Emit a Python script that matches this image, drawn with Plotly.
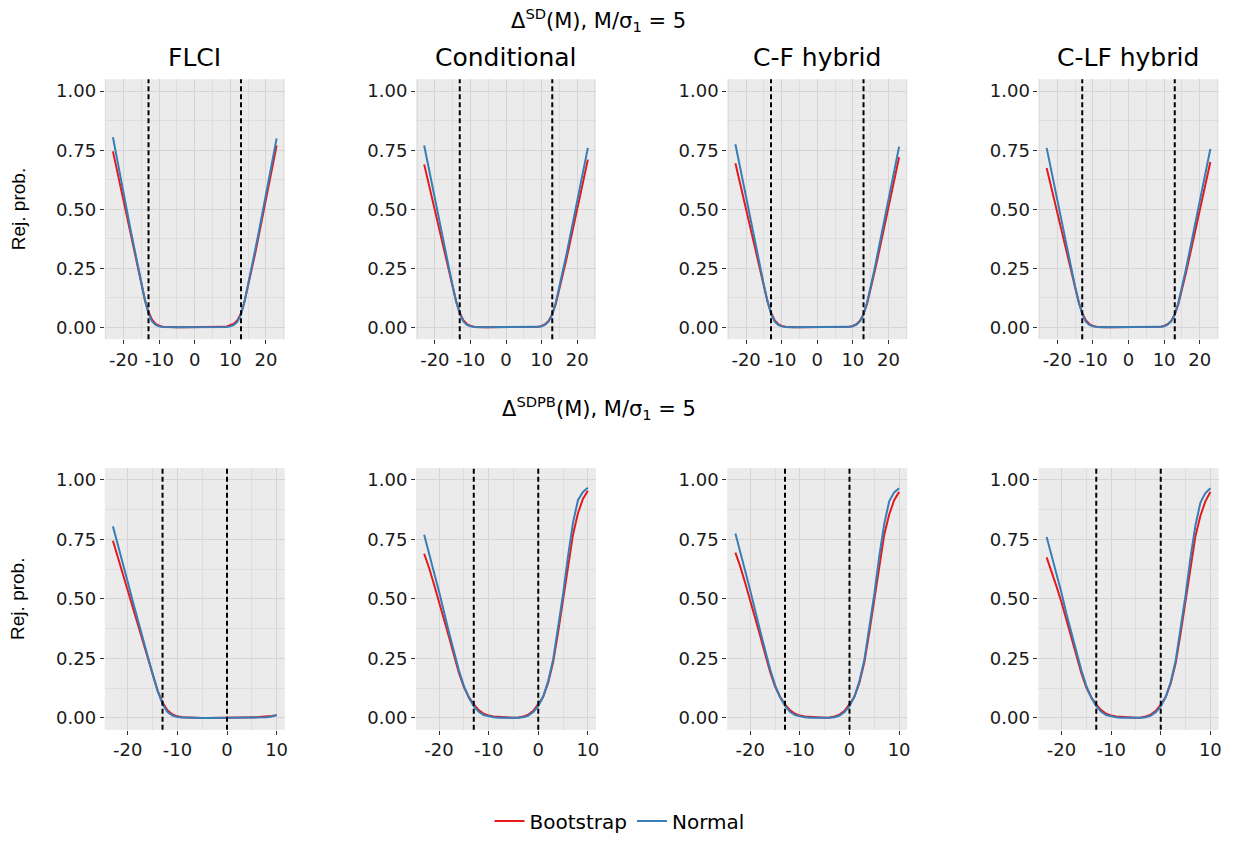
import plotly.graph_objects as go
from plotly.subplots import make_subplots

# ---------------- data ----------------
methods = ["FLCI", "Conditional", "C-F hybrid", "C-LF hybrid"]
row_titles = ["Δ<sup>SD</sup>(M), M/σ<sub>1</sub> = 5", "Δ<sup>SDPB</sup>(M), M/σ<sub>1</sub> = 5"]
series_names = ["Bootstrap", "Normal"]

x_top = list(range(-23, 24))
x_bot = list(range(-23, 11))

# top row (Delta^SD)
top_flci_boot = [0.745, 0.675, 0.60, 0.53, 0.46, 0.39, 0.32, 0.25, 0.18, 0.115, 0.065, 0.032, 0.015, 0.007, 0.003, 0.0015,
                 0.0005, 0, 0, 0, 0, 0, 0, 0, 0, 0, 0, 0, 0, 0.0005, 0.001,
                 0.002, 0.004, 0.008, 0.015, 0.03, 0.06, 0.11, 0.175, 0.245, 0.315, 0.39, 0.465, 0.545, 0.625, 0.70, 0.77]
top_flci_norm = [0.805, 0.73, 0.645, 0.57, 0.49, 0.41, 0.335, 0.26, 0.185, 0.115, 0.058, 0.025, 0.01, 0.004, 0.0015, 0.0005,
                 0, 0, 0, 0, 0, 0, 0, 0, 0, 0, 0, 0, 0, 0, 0,
                 0.0005, 0.0015, 0.004, 0.01, 0.024, 0.055, 0.11, 0.18, 0.255, 0.33, 0.405, 0.485, 0.565, 0.645, 0.725, 0.80]
top_cond_boot = [0.69, 0.625, 0.56, 0.495, 0.43, 0.365, 0.295, 0.23, 0.165, 0.108, 0.062, 0.03, 0.014, 0.006, 0.0025, 0.001,
                 0.0005, 0, 0, 0, 0, 0, 0, 0, 0, 0, 0, 0, 0, 0, 0.0005,
                 0.0012, 0.003, 0.006, 0.013, 0.028, 0.056, 0.10, 0.16, 0.225, 0.29, 0.36, 0.43, 0.50, 0.57, 0.64, 0.71]
top_cond_norm = [0.77, 0.695, 0.615, 0.54, 0.465, 0.39, 0.315, 0.245, 0.175, 0.11, 0.058, 0.025, 0.01, 0.004, 0.0015, 0.0005,
                 0, 0, 0, 0, 0, 0, 0, 0, 0, 0, 0, 0, 0, 0, 0,
                 0.0007, 0.002, 0.005, 0.011, 0.025, 0.055, 0.105, 0.17, 0.24, 0.31, 0.385, 0.46, 0.535, 0.61, 0.685, 0.76]
top_cf_boot = [0.695, 0.63, 0.565, 0.50, 0.435, 0.37, 0.30, 0.235, 0.17, 0.11, 0.063, 0.03, 0.014, 0.006, 0.0025, 0.001,
               0.0005, 0, 0, 0, 0, 0, 0, 0, 0, 0, 0, 0, 0, 0, 0.0005,
               0.0012, 0.003, 0.006, 0.013, 0.028, 0.056, 0.10, 0.16, 0.228, 0.295, 0.365, 0.435, 0.505, 0.575, 0.65, 0.72]
top_cf_norm = [0.775, 0.70, 0.62, 0.545, 0.47, 0.395, 0.32, 0.25, 0.18, 0.112, 0.058, 0.025, 0.01, 0.004, 0.0015, 0.0005,
               0, 0, 0, 0, 0, 0, 0, 0, 0, 0, 0, 0, 0, 0, 0,
               0.0007, 0.002, 0.005, 0.011, 0.025, 0.055, 0.105, 0.17, 0.24, 0.315, 0.39, 0.465, 0.54, 0.615, 0.69, 0.765]
top_clf_boot = [0.675, 0.612, 0.55, 0.487, 0.424, 0.36, 0.292, 0.228, 0.163, 0.106, 0.061, 0.03, 0.014, 0.006, 0.0025, 0.001,
                0.0005, 0, 0, 0, 0, 0, 0, 0, 0, 0, 0, 0, 0, 0, 0.0005,
                0.0012, 0.003, 0.006, 0.013, 0.027, 0.055, 0.098, 0.157, 0.222, 0.288, 0.355, 0.424, 0.492, 0.56, 0.63, 0.70]
top_clf_norm = [0.76, 0.685, 0.61, 0.535, 0.46, 0.385, 0.31, 0.24, 0.172, 0.108, 0.056, 0.024, 0.01, 0.004, 0.0015, 0.0005,
                0, 0, 0, 0, 0, 0, 0, 0, 0, 0, 0, 0, 0, 0, 0,
                0.0007, 0.002, 0.005, 0.011, 0.025, 0.054, 0.103, 0.167, 0.237, 0.31, 0.383, 0.456, 0.53, 0.605, 0.68, 0.755]

# bottom row (Delta^SDPB)
bot_flci_boot = [0.745, 0.675, 0.60, 0.53, 0.46, 0.39, 0.32, 0.25, 0.18, 0.115, 0.065, 0.032, 0.015, 0.007, 0.003, 0.0015,
                 0.0005, 0, 0, 0, 0, 0, 0, 0, 0, 0, 0, 0,
                 0.001, 0.003, 0.005, 0.006, 0.008, 0.012]
bot_flci_norm = [0.805, 0.73, 0.645, 0.57, 0.49, 0.41, 0.335, 0.26, 0.185, 0.115, 0.058, 0.025, 0.01, 0.004, 0.0015, 0.0005,
                 0, 0, 0, 0, 0, 0, 0, 0, 0, 0, 0, 0, 0,
                 0.0005, 0.001, 0.003, 0.006, 0.012]
bot_cond_boot = [0.69, 0.63, 0.56, 0.49, 0.415, 0.34, 0.265, 0.19, 0.13, 0.088, 0.057, 0.033, 0.018, 0.01, 0.006, 0.004, 0.002, 0.001, 0.0005,
                 0.002, 0.006, 0.014, 0.03, 0.058, 0.09, 0.148, 0.235, 0.36, 0.50, 0.64, 0.77, 0.86, 0.92, 0.955]
bot_cond_norm = [0.77, 0.695, 0.61, 0.53, 0.44, 0.36, 0.28, 0.20, 0.135, 0.085, 0.05, 0.026, 0.012, 0.006, 0.003, 0.0012, 0.0005, 0.0002, 0,
                 0.001, 0.003, 0.01, 0.025, 0.05, 0.09, 0.155, 0.245, 0.375, 0.52, 0.68, 0.82, 0.915, 0.95, 0.967]
bot_cf_boot = [0.695, 0.635, 0.565, 0.495, 0.42, 0.345, 0.268, 0.193, 0.132, 0.089, 0.057, 0.033, 0.018, 0.01, 0.006, 0.004, 0.002, 0.001, 0.0005,
               0.002, 0.006, 0.014, 0.03, 0.058, 0.09, 0.148, 0.235, 0.36, 0.50, 0.64, 0.77, 0.855, 0.915, 0.95]
bot_cf_norm = [0.775, 0.70, 0.615, 0.535, 0.445, 0.365, 0.285, 0.205, 0.138, 0.087, 0.051, 0.026, 0.012, 0.006, 0.003, 0.0012, 0.0005, 0.0002, 0,
               0.001, 0.003, 0.01, 0.025, 0.05, 0.09, 0.155, 0.245, 0.375, 0.52, 0.68, 0.815, 0.91, 0.948, 0.965]
bot_clf_boot = [0.675, 0.618, 0.552, 0.485, 0.412, 0.338, 0.262, 0.188, 0.128, 0.087, 0.056, 0.033, 0.018, 0.01, 0.006, 0.004, 0.002, 0.001, 0.0005,
                0.002, 0.006, 0.014, 0.03, 0.056, 0.088, 0.145, 0.23, 0.355, 0.495, 0.635, 0.765, 0.85, 0.91, 0.95]
bot_clf_norm = [0.76, 0.685, 0.603, 0.525, 0.437, 0.358, 0.278, 0.2, 0.135, 0.085, 0.05, 0.026, 0.012, 0.006, 0.003, 0.0012, 0.0005, 0.0002, 0,
                0.001, 0.003, 0.01, 0.024, 0.048, 0.088, 0.15, 0.24, 0.37, 0.515, 0.675, 0.81, 0.905, 0.945, 0.965]

top_boot = [top_flci_boot, top_cond_boot, top_cf_boot, top_clf_boot]
top_norm = [top_flci_norm, top_cond_norm, top_cf_norm, top_clf_norm]
bot_boot = [bot_flci_boot, bot_cond_boot, bot_cf_boot, bot_clf_boot]
bot_norm = [bot_flci_norm, bot_cond_norm, bot_cf_norm, bot_clf_norm]

vlines_top = [-13, 13]
vlines_bot = [-13, 0]

y_tickvals = [0, 0.25, 0.5, 0.75, 1.0]
y_ticktext = ["0.00", "0.25", "0.50", "0.75", "1.00"]
x_tickvals_top = [-20, -10, 0, 10, 20]
x_ticktext_top = ["-20", "-10", "0", "10", "20"]
x_tickvals_bot = [-20, -10, 0, 10]
x_ticktext_bot = ["-20", "-10", "0", "10"]

# ---------------- styling ----------------
W, H = 1234, 841
FONT = "DejaVu Sans"
RED = "#E41A1C"
BLUE = "#377EB8"
col_px = [(105, 285.5), (417, 597.5), (729, 909.5), (1041, 1221.5)]
row_px = [(80, 342), (472, 736)]

fig = make_subplots(rows=2, cols=4)

rows_data = [(x_top, top_boot, top_norm, vlines_top, [-25.3, 25.3], x_tickvals_top, x_ticktext_top),
             (x_bot, bot_boot, bot_norm, vlines_bot, [-24.65, 11.65], x_tickvals_bot, x_ticktext_bot)]

for r, (xs, boots, norms, vls, xr, xtv, xtt) in enumerate(rows_data, start=1):
    for c in range(1, 5):
        show = (r == 1 and c == 1)
        fig.add_trace(go.Scatter(x=xs, y=boots[c - 1], mode="lines", name=series_names[0],
                                 line=dict(color=RED, width=2), showlegend=show, legendgroup="b"),
                      row=r, col=c)
        fig.add_trace(go.Scatter(x=xs, y=norms[c - 1], mode="lines", name=series_names[1],
                                 line=dict(color=BLUE, width=2), showlegend=show, legendgroup="n"),
                      row=r, col=c)
        for v in vls:
            fig.add_vline(x=v, row=r, col=c, line=dict(color="black", width=2, dash="5px,3px"))
        x0, x1 = col_px[c - 1]
        y0, y1 = row_px[r - 1]
        fig.update_xaxes(domain=[x0 / W, x1 / W], range=xr,
                         tickmode="array", tickvals=xtv, ticktext=xtt, tickangle=0,
                         ticks="outside", ticklen=4, tickwidth=1, tickcolor="#333333",
                         showgrid=True, gridcolor="#D5D5D5", gridwidth=1.1, zeroline=False, showline=False,
                         minor=dict(dtick=5, tick0=0, showgrid=True, gridcolor="#DEDEDE", gridwidth=0.6, ticks=""),
                         tickfont=dict(family=FONT, size=18, color="#1a1a1a"),
                         row=r, col=c)
        fig.update_yaxes(domain=[1 - y1 / H, 1 - y0 / H], range=[-0.05, 1.05],
                         tickmode="array", tickvals=y_tickvals, ticktext=y_ticktext,
                         ticks="outside", ticklen=4, tickwidth=1, tickcolor="#333333",
                         showgrid=True, gridcolor="#D5D5D5", gridwidth=1.1, zeroline=False, showline=False,
                         minor=dict(tickvals=[0.125, 0.375, 0.625, 0.875], showgrid=True,
                                    gridcolor="#DEDEDE", gridwidth=0.6, ticks=""),
                         tickfont=dict(family=FONT, size=18, color="#1a1a1a"),
                         row=r, col=c)

annotations = []
for c, m in enumerate(methods):
    x0, x1 = col_px[c]
    annotations.append(dict(text=m, x=(x0 + x1) / 2 / W, y=1 - 58 / H, xref="paper", yref="paper",
                            xanchor="center", yanchor="middle", showarrow=False,
                            font=dict(family=FONT, size=25, color="black")))
for txt, ypx in zip(row_titles, [20, 411]):
    annotations.append(dict(text=txt, x=600 / W, y=1 - ypx / H, xref="paper", yref="paper",
                            xanchor="center", yanchor="middle", showarrow=False,
                            font=dict(family=FONT, size=21, color="black")))
for (y0, y1) in row_px:
    annotations.append(dict(text="Rej. prob.", x=18 / W, y=1 - (y0 + y1) / 2 / H, xref="paper", yref="paper",
                            xanchor="center", yanchor="middle", showarrow=False, textangle=-90,
                            font=dict(family="Liberation Sans Narrow, Liberation Sans, sans-serif", size=19,
                                      color="black")))

fig.update_layout(
    width=W, height=H, autosize=False,
    margin=dict(l=0, r=0, t=0, b=0),
    paper_bgcolor="white", plot_bgcolor="#EBEBEB",
    font=dict(family=FONT, color="black"),
    annotations=annotations,
    legend=dict(orientation="h", x=621 / W, xanchor="center", y=1 - 828 / H, yanchor="middle",
                font=dict(family=FONT, size=20, color="black"), bgcolor="rgba(0,0,0,0)",
                itemwidth=30, traceorder="normal"),
)

fig.write_html("out.html")
